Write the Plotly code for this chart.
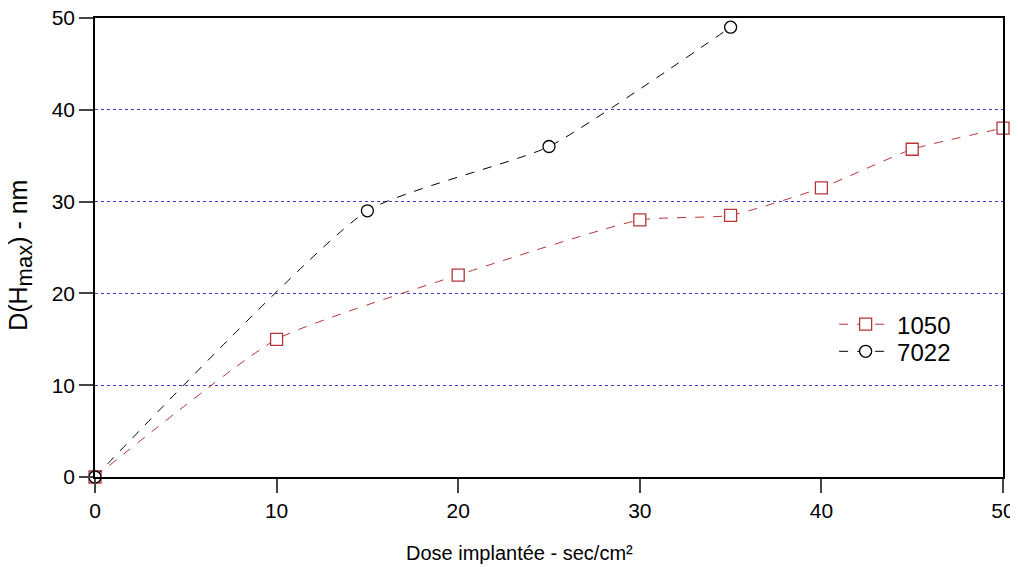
import plotly.graph_objects as go

x_1050 = [0, 10, 20, 30, 35, 40, 45, 50]
y_1050 = [0, 15, 22, 28, 28.5, 31.5, 35.7, 38]
x_7022 = [0, 15, 25, 35]
y_7022 = [0, 29, 36, 49]

x_title = "Dose implantée - sec/cm²"
y_title = "D(H<sub><span style='font-size:22px'>max</span></sub>) - nm"

red = "#b5343a"
fig = go.Figure()
fig.add_trace(go.Scatter(
    x=x_1050, y=y_1050, name="1050", mode="lines+markers", legend="legend",
    line=dict(color=red, width=1, dash="dash", shape="spline", smoothing=0.5),
    marker=dict(symbol="square", size=12, color="white", line=dict(width=1.3, color=red)),
    cliponaxis=False))
fig.add_trace(go.Scatter(
    x=x_7022, y=y_7022, name="7022", mode="lines+markers", legend="legend2",
    line=dict(color="black", width=1, dash="dash", shape="spline", smoothing=0.5),
    marker=dict(symbol="circle", size=12, color="white", line=dict(width=1.3, color="black")),
    cliponaxis=False))

font = "Liberation Sans, Arial, sans-serif"
leg = dict(xanchor="left", yanchor="top", bgcolor="rgba(0,0,0,0)",
           font=dict(size=24), itemwidth=53)
fig.update_layout(
    width=1018, height=567,
    margin=dict(l=87, r=23, t=10, b=98),
    paper_bgcolor="white", plot_bgcolor="white",
    font=dict(family=font, size=20, color="black"),
    showlegend=True,
    legend=dict(x=0.814, y=0.381, **leg),
    legend2=dict(x=0.814, y=0.322, **leg),
    xaxis=dict(range=[0, 50], tickvals=[0, 10, 20, 30, 40, 50],
               ticks="outside", ticklen=14, tickwidth=1.5,
               tickfont=dict(size=21), ticklabeloverflow="allow",
               showline=True, linecolor="black", linewidth=1.5, mirror=True,
               showgrid=False, zeroline=False, automargin=False),
    yaxis=dict(range=[0, 50], tickvals=[0, 10, 20, 30, 40, 50],
               ticks="outside", ticklen=14, tickwidth=1.5,
               tickfont=dict(size=21), ticklabeloverflow="allow",
               showline=True, linecolor="black", linewidth=1.5, mirror=True,
               showgrid=True, gridcolor="#3a3acc", griddash="dot", gridwidth=1,
               zeroline=False, automargin=False),
    annotations=[
        dict(text=x_title, xref="paper", yref="paper", x=0.468, y=-0.1656,
             xanchor="center", yanchor="middle", showarrow=False, font=dict(size=20)),
        dict(text=y_title, xref="paper", yref="paper", x=-0.0815, y=0.484,
             xanchor="center", yanchor="middle", showarrow=False, textangle=-90,
             font=dict(size=25)),
    ],
)
fig.write_html("out.html")
